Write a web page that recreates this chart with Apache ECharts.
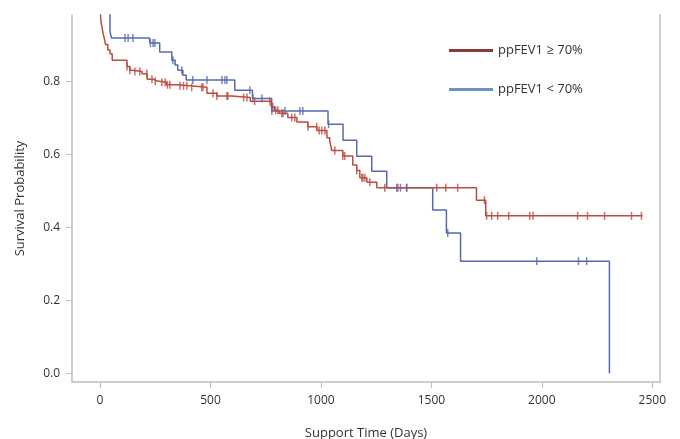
<!DOCTYPE html>
<html>
<head>
<meta charset="utf-8">
<script src="https://cdn.jsdelivr.net/npm/echarts@6/dist/echarts.min.js"></script>
<style>
  html, body { margin: 0; padding: 0; background: #fff; }
  #chart { width: 680px; height: 439px; }
</style>
</head>
<body>
<div id="chart"></div>
<script>
// Kaplan-Meier steps: [day, survival]
const highSteps = [
  [0, 1.0], [3, 0.97], [8, 0.95], [14, 0.93], [20, 0.915], [25, 0.90], [35, 0.885],
  [45, 0.875], [55, 0.857], [122, 0.84], [135, 0.83], [145, 0.826], [190, 0.82],
  [213, 0.805], [240, 0.80], [260, 0.797], [300, 0.79], [348, 0.787], [407, 0.783],
  [484, 0.767], [529, 0.759], [597, 0.755], [680, 0.745], [775, 0.73], [790, 0.72],
  [810, 0.712], [850, 0.70], [891, 0.688], [941, 0.675], [982, 0.665], [1027, 0.645],
  [1040, 0.635], [1049, 0.61], [1099, 0.595], [1144, 0.57], [1162, 0.555],
  [1176, 0.535], [1208, 0.523], [1253, 0.508], [1704, 0.474], [1746, 0.431], [2456, 0.431]
];
const lowSteps = [
  [0, 1.0], [45, 0.935], [52, 0.918], [225, 0.904], [270, 0.88], [325, 0.857],
  [340, 0.844], [352, 0.83], [375, 0.816], [390, 0.803], [610, 0.775], [690, 0.752],
  [777, 0.718], [1032, 0.682], [1100, 0.638], [1162, 0.594], [1230, 0.553],
  [1298, 0.508], [1506, 0.447], [1568, 0.384], [1632, 0.307], [2306, 0.0]
];
// censored times (days)
const highCensored = [122, 135, 158, 180, 212, 235, 250, 280, 295, 305, 316, 362, 378, 393,
  415, 460, 466, 511, 529, 574, 579, 650, 665, 700, 769, 782, 795, 805, 823, 828, 868, 882,
  941, 981, 992, 1004, 1018, 1063, 1099, 1108, 1162, 1185, 1190, 1199, 1221, 1289, 1348,
  1388, 1524, 1565, 1619, 1740, 1750, 1773, 1800, 1850, 1945, 1960, 2162, 2207, 2284, 2406, 2451];
const lowCensored = [113, 127, 149, 228, 240, 248, 330, 370, 420, 484, 552, 565, 574, 678,
  692, 733, 778, 837, 905, 918, 1035, 1343, 1360, 1388, 1574, 1977, 2166, 2203];

const xTicks = [0, 500, 1000, 1500, 2000, 2500];
const yTicks = [0, 0.2, 0.4, 0.6, 0.8];
const seriesNames = ['ppFEV1 \u2265 70%', 'ppFEV1 < 70%'];

const redColor = '#bd4c40';
const blueColor = '#5669b0';

// survival level at a given day
function levelAt(steps, t) {
  let v = steps[0][1];
  for (const s of steps) {
    if (s[0] <= t) v = s[1];
  }
  return v;
}

const chart = echarts.init(document.getElementById('chart'));
const font = 'Open Sans';

chart.setOption({
  animation: false,
  backgroundColor: '#fff',
  grid: { left: 72, right: 20, top: 15, bottom: 57, outerBoundsMode: 'none' },
  legend: {
    orient: 'vertical',
    left: 444,
    top: 39,
    itemGap: 26,
    itemWidth: 44,
    itemHeight: 3,
    icon: 'rect',
    textStyle: { fontFamily: font, fontSize: 13, color: '#333' },
    data: [
      { name: seriesNames[0], itemStyle: { color: '#8a3a36' } },
      { name: seriesNames[1], itemStyle: { color: '#6f90c6' } }
    ]
  },
  xAxis: {
    type: 'value',
    min: -127,
    max: 2535,
    name: 'Support Time (Days)',
    nameLocation: 'middle',
    nameGap: 45,
    nameTextStyle: { fontFamily: font, fontSize: 13, color: '#333' },
    axisLine: { show: true, onZero: false, lineStyle: { color: '#bdbdbd', width: 1.5 } },
    axisTick: { show: true, length: 6, customValues: xTicks, lineStyle: { color: '#bdbdbd' } },
    axisLabel: {
      customValues: xTicks, margin: 13, fontFamily: font, fontSize: 12, color: '#333',
      formatter: v => String(v)
    },
    splitLine: { show: false }
  },
  yAxis: [
    {
      type: 'value',
      min: -0.024,
      max: 0.981,
      name: 'Survival Probability',
      nameLocation: 'middle',
      nameGap: 45,
      nameTextStyle: { fontFamily: font, fontSize: 13, color: '#333' },
      axisLine: { show: true, onZero: false, lineStyle: { color: '#bdbdbd', width: 1.5 } },
      axisTick: { show: true, length: 6, customValues: yTicks, lineStyle: { color: '#bdbdbd' } },
      axisLabel: {
        customValues: yTicks, margin: 12, fontFamily: font, fontSize: 12, color: '#333',
        formatter: v => v.toFixed(1)
      },
      splitLine: { show: false }
    },
    {
      type: 'value',
      position: 'right',
      min: 0, max: 1,
      axisLine: { show: true, onZero: false, lineStyle: { color: '#cfcfcf', width: 2 } },
      axisTick: { show: false },
      axisLabel: { show: false },
      splitLine: { show: false }
    }
  ],
  series: [
    {
      name: seriesNames[0],
      type: 'line',
      step: 'end',
      data: highSteps,
      showSymbol: false,
      lineStyle: { color: redColor, width: 1.5 },
      itemStyle: { color: redColor },
      z: 3
    },
    {
      name: 'high-censored',
      type: 'scatter',
      data: highCensored.map(t => [t, levelAt(highSteps, t)]),
      symbol: 'rect',
      symbolSize: [1.5, 8],
      itemStyle: { color: redColor },
      z: 4
    },
    {
      name: seriesNames[1],
      type: 'line',
      step: 'end',
      data: lowSteps,
      showSymbol: false,
      lineStyle: { color: blueColor, width: 1.5 },
      itemStyle: { color: blueColor },
      z: 2
    },
    {
      name: 'low-censored',
      type: 'scatter',
      data: lowCensored.map(t => [t, levelAt(lowSteps, t)]),
      symbol: 'rect',
      symbolSize: [1.5, 8],
      itemStyle: { color: blueColor },
      z: 4
    }
  ]
});
</script>
</body>
</html>
